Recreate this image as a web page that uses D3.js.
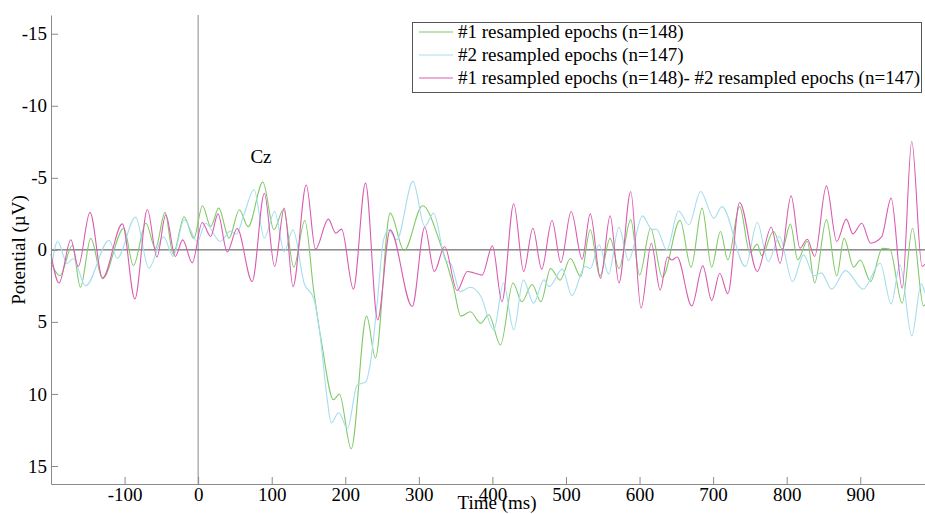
<!DOCTYPE html>
<html lang="en">
<head>
    <meta charset="UTF-8">
    <title>Cz resampled epochs</title>
    <script src="https://cdn.jsdelivr.net/npm/d3@7/dist/d3.min.js"></script>
    <style>
        body { margin: 0; background: #fff; }
        svg { display: block; font-family: "Liberation Serif", "Times New Roman", "DejaVu Serif", serif; }
        .axis path, .axis line { stroke: #8a8a8a; }
        .axis text { font-family: "Liberation Serif", "Times New Roman", serif; font-size: 19px; fill: #000; }
        .trace { fill: none; stroke-width: 1.1px; }
    </style>
</head>
<body>
<svg id="chart" width="925" height="514"></svg>
<script>
    // [time ms, potential uV] (peaks and troughs)
    var green = [
        [-200, 0.9], [-188, 1.8], [-171, -0.3], [-160, 2.6], [-146, -0.8], [-130, 2.0],
        [-101, -1.5], [-88, 1.1], [-71, -1.85], [-58, -0.1], [-45, -2.6], [-34, 0.3],
        [-19, -2.3], [-6, -0.8], [6, -3.06], [17, -1.62], [28, -2.9], [42, -0.81],
        [56, -2.78], [68, -1.6], [88, -4.7], [103, -1.4], [116, -2.8], [130, 1.2],
        [145, -2.04], [157, 2.8], [168, 6.5], [184, 10.4], [192, 10.0], [208, 13.8],
        [229, 4.6], [241, 7.5], [261, -2.55], [280, 0.05], [305, -3.06], [329, -0.46],
        [347, 2.55], [357, 4.6], [370, 4.3], [384, 5.1], [395, 4.5], [411, 6.6],
        [428, 2.3], [440, 3.6], [454, 2.4], [466, 3.6], [479, 1.3], [492, 2.1],
        [506, 0.6], [520, 1.85], [533, -1.4], [546, 1.85], [560, -0.8], [572, 1.3],
        [588, -2.1], [600, 1.75], [615, -1.5], [631, 1.9], [655, -2.05], [670, 1.2],
        [685, -2.9], [698, 1.2], [710, -1.27], [720, 0.7], [736, -3.0], [750, 0.2],
        [760, -0.4], [766, 0.4], [782, -1.27], [794, -0.05], [805, -1.8], [815, 0.7],
        [828, -0.6], [838, 2.3], [854, -2.1], [868, 1.8], [878, -0.8], [891, 1.2],
        [900, 0.7], [914, 2.2], [930, -0.1], [940, -0.05], [957, 3.7], [971, -1.5],
        [986, 3.9], [988, 3.8]
    ];

    var cyan = [
        [-200, 1.4], [-191, -0.58], [-178, 0.95], [-170, 0.6], [-153, 2.5], [-121, -0.67],
        [-110, 0.58], [-85, -2.27], [-67, 1.27], [-47, -0.9], [-34, 0.45], [-19, -2.1],
        [-1, -0.58], [10, -1.85], [30, -0.58], [44, -1.3], [52, -1.1], [62, -2.4],
        [76, -4.17], [90, -0.81], [104, -2.66], [117, 0.12], [129, -1.39], [144, 2.3],
        [157, 3.36], [166, 6.0], [175, 10.2], [181, 12.0], [191, 11.3], [203, 12.4],
        [216, 9.4], [228, 9.15], [234, 7.9], [243, 3.9], [252, -0.69], [259, -1.39],
        [270, -0.69], [292, -4.75], [308, -1.62], [320, -2.55], [336, 0.7], [344, 1.0],
        [356, 2.9], [370, 2.6], [384, 3.2], [402, 5.55], [415, 2.3], [429, 5.55],
        [442, 2.08], [456, 3.7], [470, 2.08], [477, 2.55], [495, 1.34], [508, 3.17],
        [526, 1.16], [533, 1.3], [545, -0.35], [558, 1.67], [572, -1.57], [585, 0.74],
        [604, -2.36], [617, -1.39], [623, -1.45], [637, 0], [653, -2.7], [667, -1.74],
        [683, -4.05], [701, -2.2], [712, -3.0], [744, 1.16], [760, -1.9], [775, 0.81],
        [790, -0.93], [808, 2.2], [823, 0.35], [837, 1.8], [847, 1.6], [861, 2.73],
        [880, 1.44], [904, 2.73], [927, 0.93], [942, 3.75], [954, 1.04], [970, 5.97],
        [983, 2.36], [988, 3.0]
    ];

    var magenta = [
        [-200, 0.3], [-189, 2.3], [-173, -0.7], [-163, 1.16], [-147, -2.6], [-130, 1.95],
        [-103, -1.8], [-86, 3.4], [-69, -2.8], [-56, 0.5], [-44, -2.43], [-31, 0.46],
        [-21, -0.69], [-8, 0.9], [5.5, -1.9], [17, -0.93], [27, -2.5], [39.5, 0.15],
        [53, -1.48], [73.5, 2.2], [90, -3.93], [104, 1.16], [117, -2.9], [129, 2.55],
        [147, -4.5], [159.5, -0.05], [177, -2.13], [187, -1.16], [195, -1.44], [211, 2.73],
        [227.5, -4.63], [244, 4.86], [261, -1.39], [291, 3.93], [308, -1.57], [321, 1.5],
        [335, -0.23], [352, 2.82], [366, 1.5], [375, 1.6], [386, 1.75], [400, -0.28],
        [413, 3.59], [429, -3.2], [442.5, 1.5], [455, -1.5], [467, 1.34], [481, -2.04],
        [493, 0.88], [507, -2.66], [522, 0.65], [533, -2.5], [547, 1.97], [560, -2.36],
        [572, 2.3], [588, -4.05], [602, 4.05], [616, -0.46], [628, 2.78], [638, 0.5],
        [644, 0.7], [651, 0.5], [671, 3.89], [686, 1.11], [698, 3.52], [709, 1.62],
        [720, 3.05], [736, -3.29], [760, 1.5], [779, -1.57], [791, 0.93], [806, -3.75],
        [818, -0.12], [828, -0.74], [838, 0.46], [854, -4.44], [868, -0.58], [881, -2.13],
        [890, -1.11], [902, -1.85], [914, -0.46], [929, -0.9], [942, -3.59], [957, 2.66],
        [970, -7.52], [984, 1.16], [988, 1.0]
    ];

    var seriesNames = [
        "#1 resampled epochs (n=148)",
        "#2 resampled epochs (n=147)",
        "#1 resampled epochs (n=148)- #2 resampled epochs (n=147)"
    ];
    var seriesColors = ["#80ca68", "#a6ddee", "#d95cb0"];
    var xTicks = [-100, 0, 100, 200, 300, 400, 500, 600, 700, 800, 900];
    var yTicks = [-15, -10, -5, 0, 5, 10, 15];

    var svg = d3.select("#chart");
    var plotLeft = 51, plotRight = 925, plotTop = 15, plotBottom = 484;

    var x = d3.scaleLinear().domain([-200, 988]).range([plotLeft, plotRight]);
    // potential axis is drawn negative up
    var y = d3.scaleLinear().domain([-16.3, 16.25]).range([plotTop, plotBottom]);

    // zero lines
    svg.append("line")
            .attr("x1", x(0)).attr("x2", x(0))
            .attr("y1", plotTop).attr("y2", plotBottom)
            .attr("stroke", "#8a8a8a");
    svg.append("line")
            .attr("x1", plotLeft).attr("x2", plotRight)
            .attr("y1", y(0)).attr("y2", y(0))
            .attr("stroke", "#4d4d4d");

    var line = d3.line()
            .x(function (d) { return x(d[0]); })
            .y(function (d) { return y(d[1]); })
            .curve(d3.curveMonotoneX);

    [green, cyan, magenta].forEach(function (data, i) {
        svg.append("path")
                .datum(data)
                .attr("class", "trace")
                .attr("stroke", seriesColors[i])
                .attr("d", line);
    });

    svg.append("g")
            .attr("class", "axis")
            .attr("transform", "translate(" + plotLeft + ",0)")
            .call(d3.axisLeft(y).tickValues(yTicks)
                    .tickSizeInner(-7).tickSizeOuter(0).tickPadding(4)
                    .tickFormat(function (d) { return String(d); }));

    svg.append("g")
            .attr("class", "axis")
            .attr("transform", "translate(0," + plotBottom + ")")
            .call(d3.axisBottom(x).tickValues(xTicks)
                    .tickSizeInner(-7).tickSizeOuter(0).tickPadding(3)
                    .tickFormat(function (d) { return String(d); }));

    svg.selectAll(".axis text").attr("fill", "#000");

    // axis titles
    svg.append("text")
            .attr("x", 497).attr("y", 509)
            .attr("text-anchor", "middle")
            .attr("font-size", 19)
            .text("Time (ms)");
    svg.append("text")
            .attr("transform", "translate(25,250) rotate(-90)")
            .attr("text-anchor", "middle")
            .attr("font-size", 19)
            .text("Potential (\u00b5V)");

    svg.append("text")
            .attr("x", 261).attr("y", 163)
            .attr("text-anchor", "middle")
            .attr("font-size", 19)
            .text("Cz");

    // legend
    var legend = svg.append("g");
    legend.append("rect")
            .attr("x", 412.5).attr("y", 22.5)
            .attr("width", 509).attr("height", 70)
            .attr("fill", "#fff")
            .attr("stroke", "#555");
    seriesNames.forEach(function (name, i) {
        var cy = 32 + i * 23;
        legend.append("line")
                .attr("x1", 419).attr("x2", 453)
                .attr("y1", cy).attr("y2", cy)
                .attr("stroke", seriesColors[i])
                .attr("stroke-width", 1.2);
        legend.append("text")
                .attr("x", 458).attr("y", cy + 6)
                .attr("font-size", 19)
                .text(name);
    });
</script>
</body>
</html>
